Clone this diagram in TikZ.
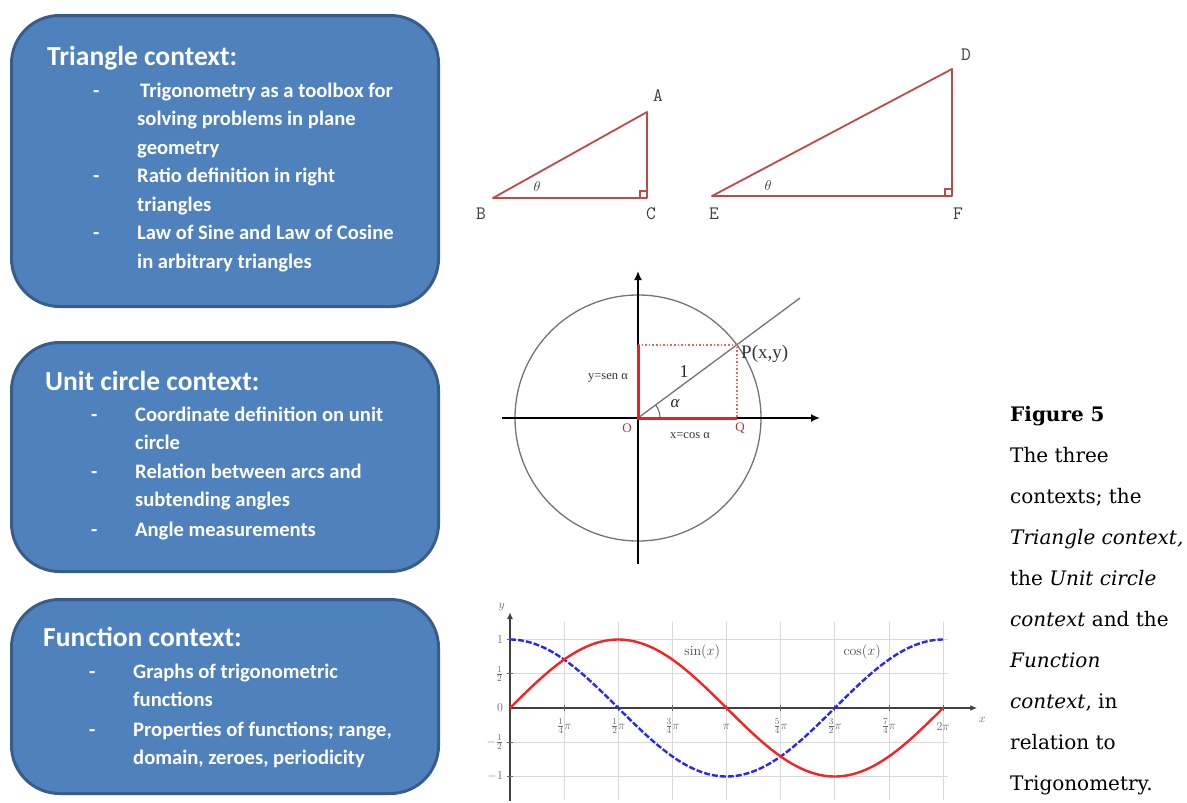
\documentclass[tikz,border=0pt]{standalone}
\usepackage{fontspec}
\usetikzlibrary{arrows.meta}
\newfontfamily\calib{Carlito}
\newfontfamily\capfont{DejaVu Serif}
\newfontfamily\timesf{Liberation Serif}
\definecolor{boxfill}{HTML}{4F81BD}
\definecolor{boxborder}{HTML}{385D8A}
\definecolor{trired}{RGB}{192,72,72}
\definecolor{ucred}{RGB}{240,30,30}
\definecolor{lblred}{RGB}{160,60,60}
\definecolor{cosblue}{RGB}{40,40,245}
\definecolor{sinred}{RGB}{245,35,35}
\tikzset{
  ctxbox/.style={draw=boxborder, line width=3pt, fill=boxfill, rounded corners=48pt, anchor=north west, inner sep=0pt},
  ttl/.style={text=white, font=\calib\bfseries\fontsize{27.5}{30}\selectfont, inner sep=0pt, anchor=base west},
  itm/.style={text=white, font=\calib\bfseries\fontsize{20.6}{24}\selectfont, inner sep=0pt, anchor=base west},
  trilbl/.style={text=black!75, font=\ttfamily\fontsize{19}{20}\selectfont, inner sep=0pt},
  thlbl/.style={text=black!80, font=\fontsize{15}{16}\selectfont, inner sep=0pt},
  triline/.style={draw=trired, line width=1.8pt, line join=round},
  uclbl/.style={text=black!80, font=\timesf\fontsize{12.5}{14}\selectfont, inner sep=0pt},
  caplbl/.style={text=black, font=\capfont\fontsize{20}{24}\selectfont, inner sep=0pt, anchor=base west},
  glbl/.style={text=black!60, font=\fontsize{13}{15}\selectfont, inner sep=0pt},
}
\begin{document}
\begin{tikzpicture}[x=1pt, y=-1pt]
\useasboundingbox (0,0) rectangle (1187,803);

% ---------- boxes ----------
\node[ctxbox, minimum width=427pt, minimum height=291pt] (b1) at (10,14) {};
\node[ctxbox, minimum width=427pt, minimum height=229pt] (b2) at (10,341) {};
\node[ctxbox, minimum width=427pt, minimum height=194pt] (b3) at (10,598) {};

\node[ttl] (t1) at (47,65) {Triangle context:};
\node[itm] (d11) at (93,97) {-};
\node[itm] (i11) at (140,97) {Trigonometry as a toolbox for};
\node[itm] (i12) at (137,125.5) {solving problems in plane};
\node[itm] (i13) at (137,154) {geometry};
\node[itm] (d12) at (93,182) {-};
\node[itm] (i14) at (137,182) {Ratio definition in right};
\node[itm] (i15) at (137,211) {triangles};
\node[itm] (d13) at (93,239) {-};
\node[itm] (i16) at (137,239) {Law of Sine and Law of Cosine};
\node[itm] (i17) at (137,268) {in arbitrary triangles};

\node[ttl] (t2) at (45,390) {Unit circle context:};
\node[itm] (d21) at (91,421) {-};
\node[itm] (i21) at (135,421) {Coordinate definition on unit};
\node[itm] (i22) at (135,449) {circle};
\node[itm] (d22) at (91,478) {-};
\node[itm] (i23) at (135,478) {Relation between arcs and};
\node[itm] (i24) at (135,506) {subtending angles};
\node[itm] (d23) at (91,536) {-};
\node[itm] (i25) at (135,536) {Angle measurements};

\node[ttl] (t3) at (43,646) {Function context:};
\node[itm] (d31) at (89,678) {-};
\node[itm] (i31) at (133,678) {Graphs of trigonometric};
\node[itm] (i32) at (133,706) {functions};
\node[itm] (d32) at (89,736) {-};
\node[itm] (i33) at (133,736) {Properties of functions; range,};
\node[itm] (i34) at (133,764) {domain, zeroes, periodicity};

% ---------- triangles ----------
\coordinate (B) at (493,198);
\coordinate (C) at (647,198);
\coordinate (A) at (647,112);
\draw[triline] (B) -- (C) -- (A) -- cycle;
\draw[draw=trired, line width=1.2pt] ([xshift=-7pt]C) -- ++(0,-7) -- ++(7,0);
\node[trilbl] (lA) at (658,96) {A};
\node[trilbl] (lB) at (481,214) {B};
\node[trilbl] (lC) at (651,214) {C};
\node[thlbl] (th1) at (537,186) {$\theta$};

\coordinate (E) at (712,196);
\coordinate (F) at (952,196);
\coordinate (D) at (952,69);
\draw[triline] (E) -- (F) -- (D) -- cycle;
\draw[draw=trired, line width=1.2pt] ([xshift=-7pt]F) -- ++(0,-7) -- ++(7,0);
\node[trilbl] (lD) at (966,55) {D};
\node[trilbl] (lE) at (714,214) {E};
\node[trilbl] (lF) at (958,214) {F};
\node[thlbl] (th2) at (768,185) {$\theta$};

% ---------- unit circle ----------
\coordinate (O) at (638,418);
\coordinate (P) at (737,345);
\coordinate (Q) at (737,418);
\coordinate (Y) at (638,345);
\coordinate (R) at (800,298);
\coordinate (xl) at (502,418);
\coordinate (xr) at (820,418);
\coordinate (yb) at (638,564);
\coordinate (yt) at (638,271);
\draw[black!55, line width=1.3pt] (O) circle[radius=123pt];
\draw[black!55, line width=1.3pt] (O) -- (R);
\draw[line width=1.8pt, -{Latex[length=9pt,width=8pt]}] (xl) -- (xr);
\draw[line width=1.8pt, -{Latex[length=9pt,width=8pt]}] (yb) -- (yt);
\draw[ucred!70, dotted, line width=1.6pt] (Y) -- (P) -- (Q);
\draw[ucred, line width=3pt] (Y) -- (O) -- (Q);
\draw[black!70, line width=0.9pt] ([xshift=22pt]O) arc[start angle=0, end angle=36, radius=22pt];
\node[text=black!80, font=\timesf\fontsize{19}{22}\selectfont, inner sep=0pt, anchor=west] (lP) at (741,354) {P(x,y)};
\node[text=black!85, font=\timesf\fontsize{18}{20}\selectfont, inner sep=0pt] (l1) at (684,372) {1};
\node[text=black!85, font=\timesf\itshape\fontsize{17}{20}\selectfont, inner sep=0pt] (lal) at (675,404) {α};
\node[uclbl, anchor=east] (lsen) at (628,378) {y=sen α};
\node[uclbl] (lcos) at (690,436) {x=cos α};
\node[text=lblred, font=\timesf\fontsize{13}{14}\selectfont, inner sep=0pt] (lO) at (627,428) {O};
\node[text=lblred, font=\timesf\fontsize{13}{14}\selectfont, inner sep=0pt] (lQ) at (740,428) {Q};

% ---------- function graph ----------
\coordinate (go) at (510,708);
\begin{scope}[shift={(go)}, x=68.92pt, y=68.5pt]
  \draw[black!15, line width=0.7pt] foreach \k in {1,...,8} {({\k*pi/4},-1.34) -- ({\k*pi/4},1.26)};
  \draw[black!15, line width=0.7pt] foreach \v in {-1,-0.5,0.5,1} {(0,\v) -- (6.36,\v)};
  \draw[black!75, line width=1.4pt, -{Latex[length=7pt,width=6pt]}] (0,0) -- (6.78,0);
  \draw[black!75, line width=1.4pt, -{Latex[length=7pt,width=6pt]}] (0,-1.36) -- (0,1.4);
  \draw[black!60, line width=0.8pt] foreach \k in {1,...,8} {({\k*pi/4},-0.05) -- ({\k*pi/4},0.05)};
  \draw[black!60, line width=0.8pt] foreach \v in {-1,-0.5,0.5,1} {(-0.05,\v) -- (0.05,\v)};
  \draw[cosblue, line width=2.4pt, dash pattern=on 6pt off 2pt] plot[domain=0:2*pi, samples=120, smooth] (\x,{cos(\x r)});
  \draw[sinred, line width=2.4pt] plot[domain=0:2*pi, samples=120, smooth] (\x,{sin(\x r)});
  \node[glbl] (gx1) at ({1*pi/4},-0.27) {$\frac14\pi$};
  \node[glbl] (gx2) at ({2*pi/4},-0.27) {$\frac12\pi$};
  \node[glbl] (gx3) at ({3*pi/4},-0.27) {$\frac34\pi$};
  \node[glbl] (gx4) at ({4*pi/4},-0.27) {$\pi$};
  \node[glbl] (gx5) at ({5*pi/4},-0.27) {$\frac54\pi$};
  \node[glbl] (gx6) at ({6*pi/4},-0.27) {$\frac32\pi$};
  \node[glbl] (gx7) at ({7*pi/4},-0.27) {$\frac74\pi$};
  \node[glbl] (gx8) at ({8*pi/4},-0.27) {$2\pi$};
  \node[glbl, anchor=east] (gy1) at (-0.1,1) {$1$};
  \node[glbl, anchor=east] (gy2) at (-0.1,0.5) {$\frac12$};
  \node[glbl, anchor=east] (gy3) at (-0.1,0) {$0$};
  \node[glbl, anchor=east] (gy4) at (-0.1,-0.5) {$-\frac12$};
  \node[glbl, anchor=east] (gy5) at (-0.1,-1) {$-1$};
  \node[glbl] (gyl) at (-0.12,1.47) {$y$};
  \node[glbl] (gxl) at (6.85,-0.17) {$x$};
  \node[text=black!70, font=\fontsize{14}{16}\selectfont, inner sep=0pt] (gsin) at (2.79,0.82) {$\sin(x)$};
  \node[text=black!70, font=\fontsize{14}{16}\selectfont, inner sep=0pt] (gcos) at (5.11,0.82) {$\cos(x)$};
\end{scope}

% ---------- caption ----------
\node[caplbl] (c1) at (1010,421) {\bfseries Figure 5};
\node[caplbl] (c2) at (1010,462) {The three};
\node[caplbl] (c3) at (1010,503) {contexts; the};
\node[caplbl] (c4) at (1010,544) {\itshape Triangle context,};
\node[caplbl] (c5) at (1010,585) {the \textit{Unit circle}};
\node[caplbl] (c6) at (1010,626) {\textit{context} and the};
\node[caplbl] (c7) at (1010,667) {\itshape Function};
\node[caplbl] (c8) at (1010,708) {\textit{context}, in};
\node[caplbl] (c9) at (1010,749) {relation to};
\node[caplbl] (c10) at (1010,790) {Trigonometry.};
\end{tikzpicture}
\end{document}
